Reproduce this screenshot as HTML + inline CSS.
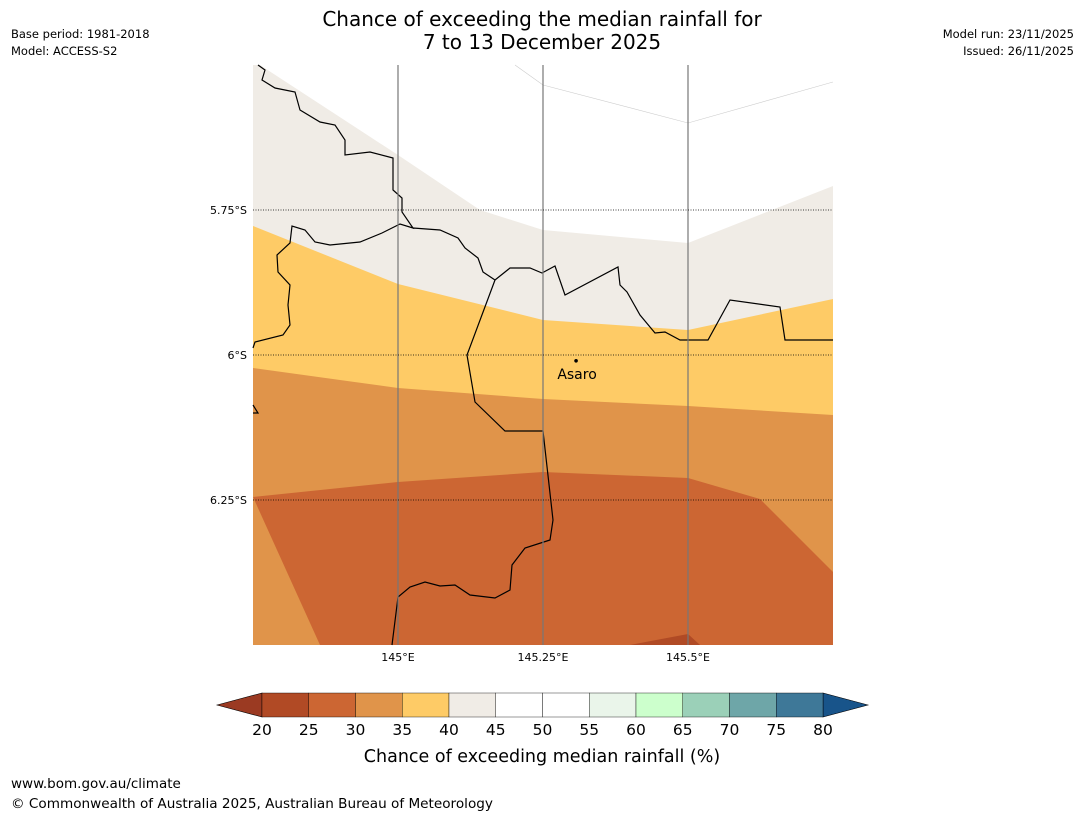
<!DOCTYPE html>
<html><head><meta charset="utf-8"><style>
body{margin:0;background:#fff;width:1085px;height:816px;overflow:hidden;font-family:"Liberation Sans","DejaVu Sans",sans-serif}
svg text{font-family:"DejaVu Sans","Liberation Sans",sans-serif}
</style></head><body>
<svg id="s" width="1085" height="816" xmlns="http://www.w3.org/2000/svg">
<text x="542" y="26" font-size="20" text-anchor="middle">Chance of exceeding the median rainfall for</text>
<text x="542" y="49" font-size="20" text-anchor="middle">7 to 13 December 2025</text>
<text x="11" y="38" font-size="11.5">Base period: 1981-2018</text>
<text x="11" y="55" font-size="11.5">Model: ACCESS-S2</text>
<text x="1074" y="38" font-size="11.5" text-anchor="end">Model run: 23/11/2025</text>
<text x="1074" y="55" font-size="11.5" text-anchor="end">Issued: 26/11/2025</text>
<g id="map"></g>
<g id="cb"></g>
<text x="542" y="762" font-size="17.5" text-anchor="middle">Chance of exceeding median rainfall (%)</text>
<text x="11" y="788" font-size="13.5">www.bom.gov.au/climate</text>
<text x="11" y="808" font-size="13.6">© Commonwealth of Australia 2025, Australian Bureau of Meteorology</text>
</svg>
<script>
const NS="http://www.w3.org/2000/svg";
const lonTicks=[145,145.25,145.5], lonLabels=["145°E","145.25°E","145.5°E"];
const latTicks=[-5.75,-6,-6.25], latLabels=["5.75°S","6°S","6.25°S"];
const cbLevels=[20,25,30,35,40,45,50,55,60,65,70,75,80];
const cbColors=["#b14a25","#cc6633","#e0944a","#fecb66","#f0ece6","#ffffff","#ffffff","#eaf5ea","#ccffcc","#9bd0b8","#6ea6a8","#3e7898"];
const lonMin=144.75,lonMax=145.75,latMax=-5.5,latMin=-6.5;
const X0=253,X1=833,Y0=65,Y1=645;
const px=l=>X0+(l-lonMin)/(lonMax-lonMin)*(X1-X0);
const py=l=>Y0+(latMax-l)/(latMax-latMin)*(Y1-Y0);
const P=(x,y)=>[lonMin+(x-X0)/580,latMax-(y-Y0)/580];
const zones=[
 {c:"#ffffff",pts:[[253,65],[833,65],[833,645],[253,645]]},
 {c:"#f0ece6",pts:[[253,65],[260,65],[398,155],[480,210],[543,230],[688,243],[833,186],[833,645],[253,645]]},
 {c:"#fecb66",pts:[[253,226],[398,284],[543,320],[688,330],[833,299],[833,645],[253,645]]},
 {c:"#e0944a",pts:[[253,368],[398,388],[543,399],[688,406],[833,415],[833,645],[253,645]]},
 {c:"#cc6633",pts:[[253,497],[398,482],[543,472],[688,478],[760,499],[833,572],[833,645],[320,645]]},
 {c:"#b04a25",pts:[[630,645],[688,634],[700,645]]}
].map(z=>({c:z.c,pts:z.pts.map(p=>P(p[0],p[1]))}));
const border1=[[258,65],[265,70],[262,80],[275,88],[295,92],[300,110],[320,122],[335,125],[345,140],[345,155],[370,152],[393,158],[393,190],[402,198],[402,212],[413,228],[400,224],[382,233],[360,242],[330,245],[315,242],[305,230],[292,226],[290,243],[277,255],[278,272],[290,285],[288,305],[290,325],[283,335],[255,342],[253,348]].map(p=>P(p[0],p[1]));
const border2=[[413,228],[440,230],[458,238],[465,248],[478,258],[483,272],[495,280],[510,268],[530,268],[542,273],[555,266],[565,295],[618,267],[620,285],[627,292],[640,315],[655,333],[665,332],[680,340],[708,340],[730,300],[780,307],[785,340],[833,340]].map(p=>P(p[0],p[1]));
const border3=[[495,280],[467,355],[475,402],[505,431],[543,431],[553,520],[550,540],[525,548],[512,565],[510,590],[495,598],[470,595],[455,585],[440,586],[425,582],[410,587],[398,597],[392,645]].map(p=>P(p[0],p[1]));
const notch=[[253,405],[258,413],[253,413]].map(p=>P(p[0],p[1]));
const map=document.getElementById('map'), cb=document.getElementById('cb');
function el(t,a,parent){const e=document.createElementNS(NS,t);for(const k in a)e.setAttribute(k,a[k]);(parent||map).appendChild(e);return e;}
zones.forEach((z,i)=>{
 const e=el('polygon',{points:z.pts.map(p=>px(p[0])+","+py(p[1])).join(" "),fill:z.c});
 
 
});
el('polyline',{points:"515,65 543,85 688,123 833,82",fill:"none",stroke:"#ccc","stroke-width":0.6});
[border1,border2,border3].forEach((b,i)=>{
 const e=el('polyline',{points:b.map(p=>px(p[0])+","+py(p[1])).join(" "),fill:"none",stroke:"#000","stroke-width":1.2});
 
 
});
el('polyline',{points:notch.map(p=>px(p[0])+","+py(p[1])).join(" "),fill:"none",stroke:"#000","stroke-width":1.2});
lonTicks.forEach((l,i)=>{
 const e=el('line',{x1:px(l),x2:px(l),y1:Y0,y2:Y1,stroke:"#777","stroke-width":1.2});
 
 
 const t=el('text',{x:px(l),y:661,"font-size":11,"text-anchor":"middle"});t.textContent=lonLabels[i];
 
 
});
latTicks.forEach((l,i)=>{
 const e=el('line',{x1:X0,x2:X1,y1:py(l),y2:py(l),stroke:"#000","stroke-width":0.8,"stroke-dasharray":"1,1.5"});
 
 
 const t=el('text',{x:247,y:py(l)+4,"font-size":11,"text-anchor":"end"});t.textContent=latLabels[i];
 
 
});
const town=[145.307,-6.01];
const d=el('circle',{cx:px(town[0]),cy:py(town[1]),r:1.8,fill:"#000"});


const tt=el('text',{x:px(town[0])+1,y:py(town[1])+18,"font-size":14,"text-anchor":"middle"});tt.textContent="Asaro";


const cx0=262,cx1=823,cy0=693,cy1=717;
const cx=v=>cx0+(v-cbLevels[0])/(cbLevels[cbLevels.length-1]-cbLevels[0])*(cx1-cx0);
el('polygon',{points:`217,705 ${cx0},${cy0} ${cx0},${cy1}`,fill:"#9b3a22",stroke:"#000","stroke-width":0.6},cb);
el('polygon',{points:`868,705 ${cx1},${cy0} ${cx1},${cy1}`,fill:"#18548a",stroke:"#000","stroke-width":0.6},cb);
cbColors.forEach((c,i)=>{
 const r=el('rect',{x:cx(cbLevels[i]),y:cy0,width:cx(cbLevels[i+1])-cx(cbLevels[i]),height:cy1-cy0,fill:c,stroke:"#000","stroke-width":0.4},cb);
 
 
});
cbLevels.forEach(v=>{
 const t=el('text',{x:cx(v),y:735,"font-size":15.5,"text-anchor":"middle"},cb);t.textContent=v;
 
 
});
</script>
</body></html>
